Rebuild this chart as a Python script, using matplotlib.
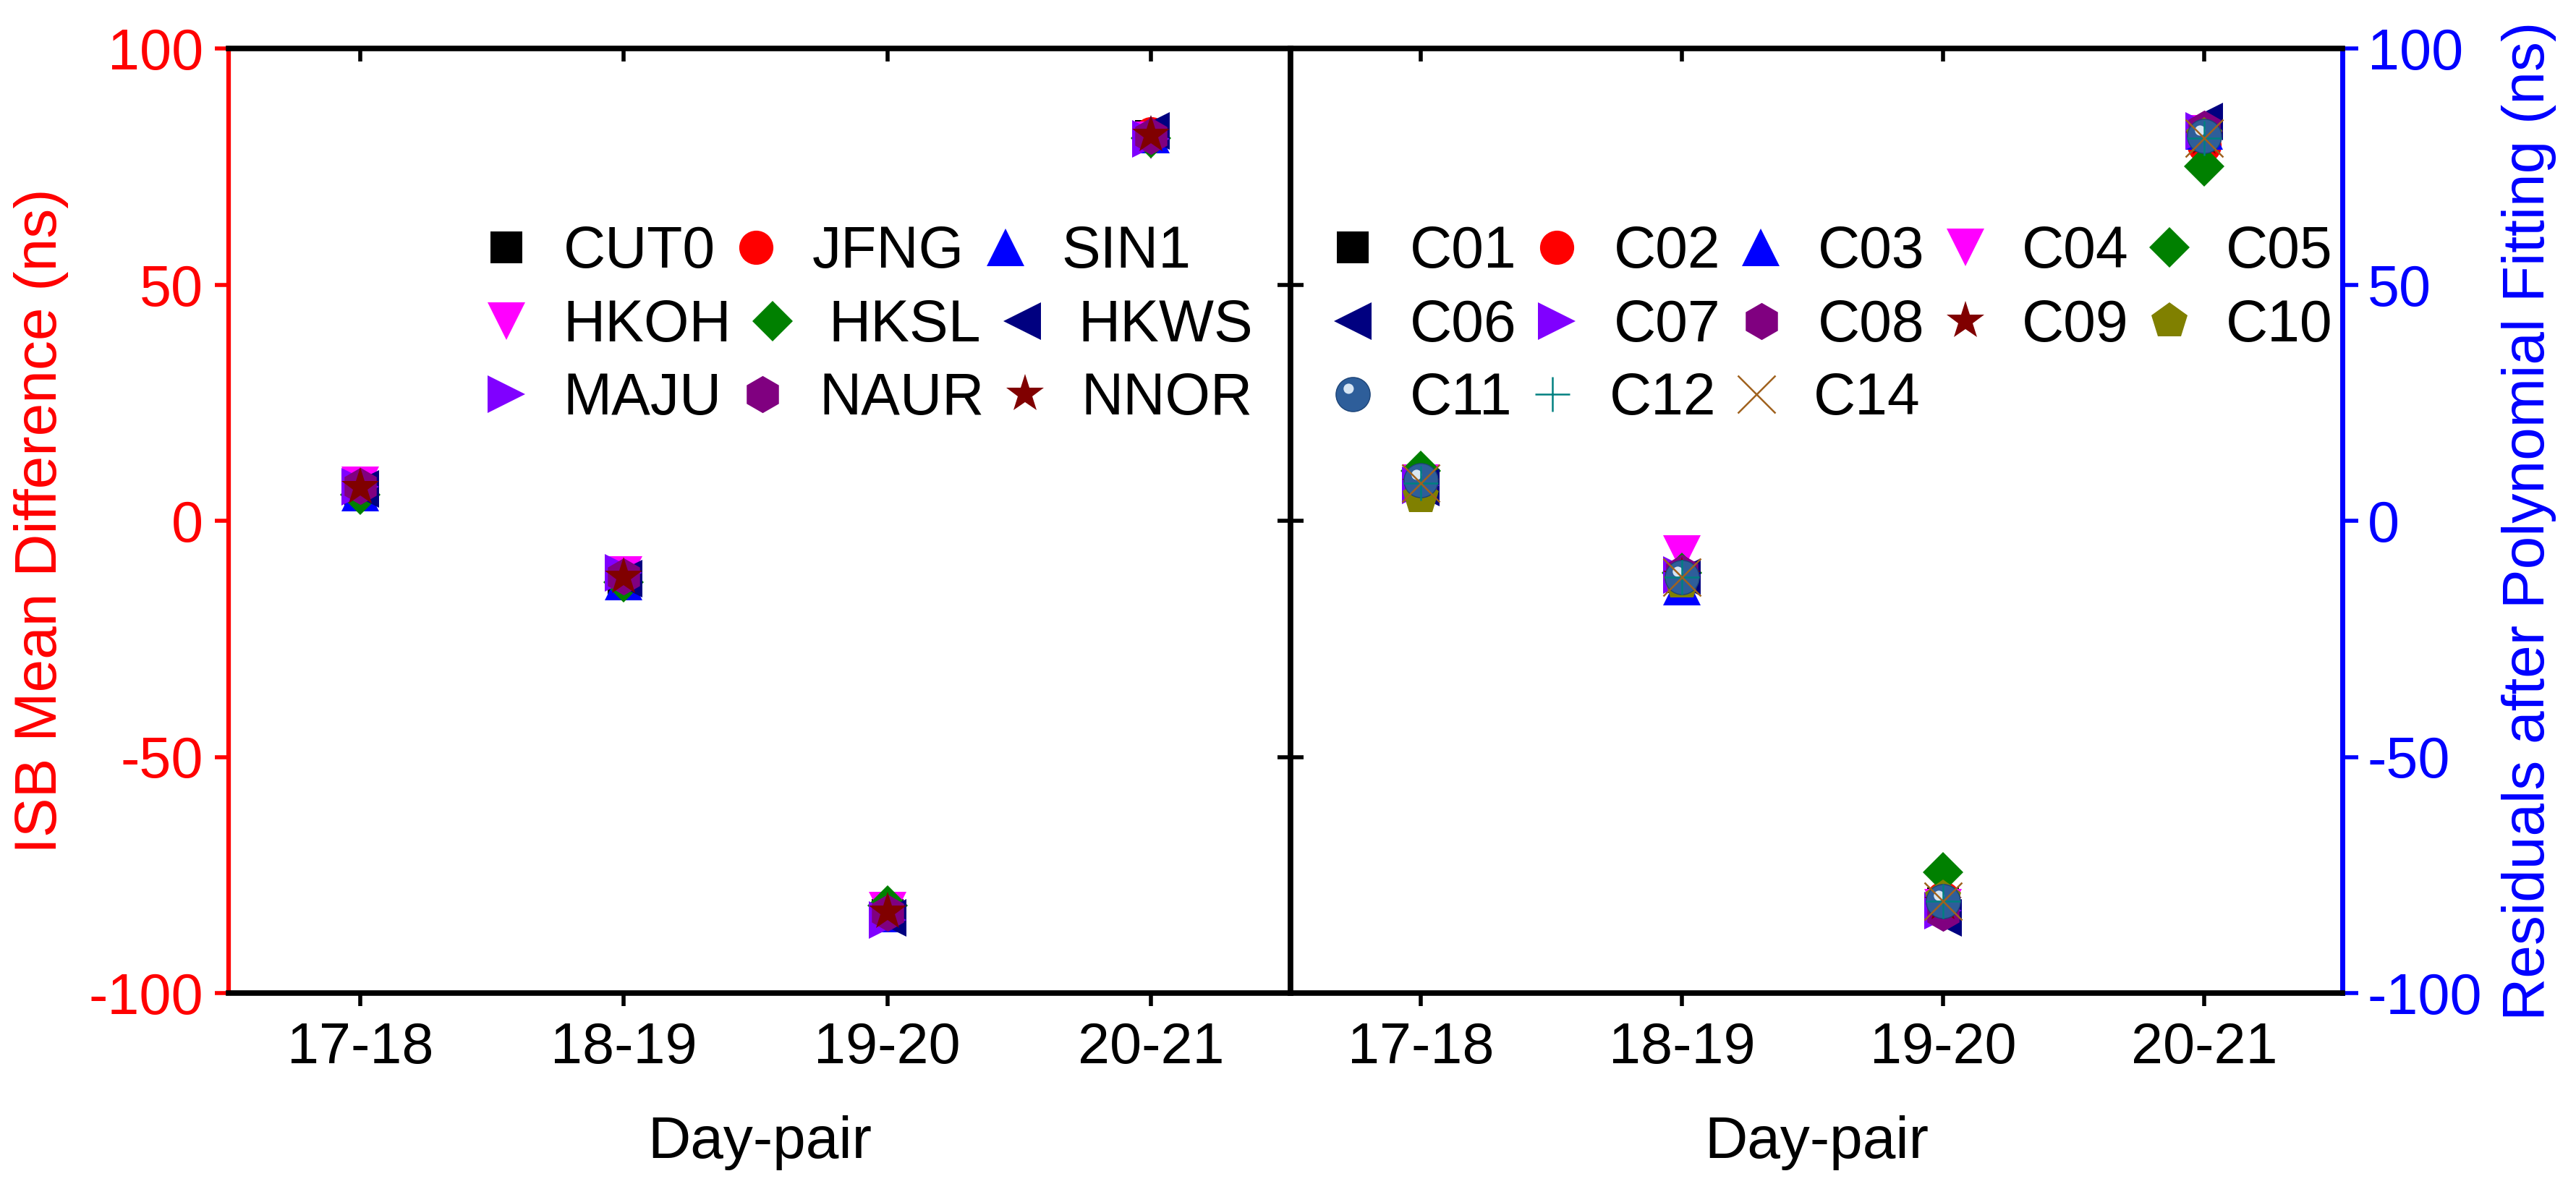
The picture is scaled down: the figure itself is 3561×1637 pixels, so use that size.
import numpy as np
import matplotlib
matplotlib.use('Agg')
import matplotlib.pyplot as plt
from matplotlib.markers import MarkerStyle
from matplotlib.transforms import Affine2D

plt.rcParams['font.family'] = ['Liberation Sans', 'DejaVu Sans']
plt.rcParams['axes.unicode_minus'] = False

# ---- data ----
day_pairs = ['17-18', '18-19', '19-20', '20-21']

# ISB mean difference per station (ns)
station_names = ['CUT0', 'JFNG', 'SIN1', 'HKOH', 'HKSL', 'HKWS', 'MAJU', 'NAUR', 'NNOR']
cut0 = [6.5, -12.5, -83.5, 81.5]
jfng = [7.0, -12.0, -83.0, 82.0]
sin1 = [6.0, -12.8, -83.2, 81.8]
hkoh = [7.5, -11.5, -82.5, 80.5]
hksl = [5.5, -13.0, -81.5, 81.0]
hkws = [6.8, -12.2, -84.0, 82.5]
maju = [7.2, -11.0, -84.5, 80.8]
naur = [7.3, -11.8, -83.0, 81.5]
nnor = [7.0, -12.0, -82.8, 81.6]

# residuals after polynomial fitting per satellite (ns)
sat_names = ['C01', 'C02', 'C03', 'C04', 'C05', 'C06', 'C07',
             'C08', 'C09', 'C10', 'C11', 'C12', 'C14']
c01 = [8.0, -12.0, -81.0, 82.0]
c02 = [7.5, -12.5, -80.0, 79.5]
c03 = [8.5, -14.0, -81.5, 82.5]
c04 = [8.0, -7.0, -82.0, 82.0]
c05 = [10.5, -11.0, -74.5, 75.0]
c06 = [7.0, -12.0, -84.0, 84.5]
c07 = [7.5, -11.5, -82.5, 82.5]
c08 = [8.0, -11.0, -83.0, 83.0]
c09 = [7.5, -12.0, -81.0, 81.0]
c10 = [5.0, -13.0, -80.0, 81.5]
c11 = [8.5, -12.0, -80.5, 81.5]
c12 = [8.0, -12.0, -80.5, 81.0]
c14 = [8.0, -12.0, -80.5, 81.0]

station_vals = [cut0, jfng, sin1, hkoh, hksl, hkws, maju, naur, nnor]
sat_vals = [c01, c02, c03, c04, c05, c06, c07, c08, c09, c10, c11, c12, c14]

# ---- marker styles (marker, colour, size) ----
base_styles = [('s', 'black', 31), ('o', 'red', 34), ('^', 'blue', 38),
               ('v', '#ff00ff', 38), ('D', '#008000', 29), ('<', '#000080', 38),
               ('>', '#8000ff', 38), ('h', '#800080', 37), ('*', '#800000', 40)]
sat_styles = base_styles + [('p', '#808000', 38), ('sphere', '#2e5e9a', 34),
                            ('+', '#008080', 34), ('x', '#a0621e', 38)]

W, H, DPI = 3562, 1637, 100
FS_TICK = 57
FS_LEG = 58
FS_LAB = 59
fig = plt.figure(figsize=(W / DPI, H / DPI), dpi=DPI)


def px_box(x0, y0, x1, y1):
    return [x0 / W, 1 - y1 / H, (x1 - x0) / W, (y1 - y0) / H]


ax1 = fig.add_axes(px_box(316, 67, 1784, 1373))
ax2 = fig.add_axes(px_box(1784, 67, 3238, 1373))
x = np.arange(len(day_pairs))


def draw_series(ax, vals, styles):
    handles = []
    for v, (m, c, ms) in zip(vals, styles):
        if m == 'sphere':
            h1, = ax.plot(x, v, ls='none', marker='o', ms=ms, color=c,
                          markeredgecolor='#1d4477', markeredgewidth=1.0)
            glint = MarkerStyle('o', transform=Affine2D().scale(0.3).translate(-0.13, 0.17))
            h2, = ax.plot(x, v, ls='none', marker=glint, ms=ms, color='#d8e6f4',
                          markeredgewidth=0)
            handles.append((h1, h2))
        elif m in ('+', 'x'):
            h, = ax.plot(x, v, ls='none', marker=m, ms=ms, color=c, markeredgewidth=1.8)
            handles.append(h)
        else:
            h, = ax.plot(x, v, ls='none', marker=m, ms=ms, color=c, markeredgewidth=0)
            handles.append(h)
    return handles


h_st = draw_series(ax1, station_vals, base_styles)
h_sat = draw_series(ax2, sat_vals, sat_styles)

for ax in (ax1, ax2):
    ax.set_xlim(-0.5, 3.53)
    ax.set_ylim(-100, 100)
    ax.set_xticks(x)
    ax.set_xticklabels(day_pairs)
    ax.set_yticks([-100, -50, 0, 50, 100])
    ax.tick_params(axis='x', direction='out', length=13, width=4, labelsize=FS_TICK, pad=15)
    for s in ax.spines.values():
        s.set_linewidth(5.5)
    top = ax.secondary_xaxis('top')
    top.set_xticks(x)
    top.tick_params(direction='in', length=13, width=4, labeltop=False)
    top.spines['top'].set_visible(False)

# left panel: red left axis
ax1.spines['left'].set_color('red')
ax1.spines['left'].set_linewidth(4.5)
ax1.tick_params(axis='y', direction='out', length=14, width=4, color='red',
                labelcolor='red', labelsize=FS_TICK, pad=11)
mid1 = ax1.secondary_yaxis('right')
mid1.set_yticks([-50, 0, 50])
mid1.tick_params(direction='in', length=13, width=4, labelright=False)
mid1.spines['right'].set_visible(False)

# right panel: blue right axis
ax2.yaxis.tick_right()
ax2.spines['right'].set_color('blue')
ax2.spines['right'].set_linewidth(5)
ax2.tick_params(axis='y', direction='out', length=16, width=4, color='blue',
                labelcolor='blue', labelsize=FS_TICK, pad=9)
mid2 = ax2.secondary_yaxis('left')
mid2.set_yticks([-50, 0, 50])
mid2.tick_params(direction='in', length=13, width=4, labelleft=False)
mid2.spines['left'].set_visible(False)

fig.text(57 / W, 1 - 720 / H, 'ISB Mean Difference (ns)', color='red', fontsize=FS_LAB,
         rotation=90, ha='center', va='center')
fig.text(3496 / W, 1 - 720 / H, 'Residuals after Polynomial Fitting (ns)', color='blue',
         fontsize=FS_LAB, rotation=90, ha='center', va='center')
fig.text((316 + 1784) / 2 / W, 1 - 1601 / H, 'Day-pair', fontsize=FS_LAB,
         ha='center', va='baseline')
fig.text((1784 + 3238) / 2 / W, 1 - 1601 / H, 'Day-pair', fontsize=FS_LAB,
         ha='center', va='baseline')


# the legends flow row by row (each entry follows the previous text),
# so every row is its own one-line legend
def row_legends(handles, labels, rows, left, tops):
    for idx, top_px in zip(rows, tops):
        fig.legend([handles[i] for i in idx], [labels[i] for i in idx],
                   loc='upper left', bbox_to_anchor=(left / W, 1 - top_px / H),
                   ncol=len(idx), frameon=False, fontsize=FS_LEG,
                   handlelength=1.0, handletextpad=0.47, columnspacing=0.2,
                   borderpad=0, borderaxespad=0, numpoints=1)


row_tops = [311, 413, 514]
row_legends(h_st, station_names, [[0, 1, 2], [3, 4, 5], [6, 7, 8]], 660, row_tops)
row_legends(h_sat, sat_names, [[0, 1, 2, 3, 4], [5, 6, 7, 8, 9], [10, 11, 12]], 1830, row_tops)

fig.savefig('out.png', dpi=DPI, facecolor='white')
